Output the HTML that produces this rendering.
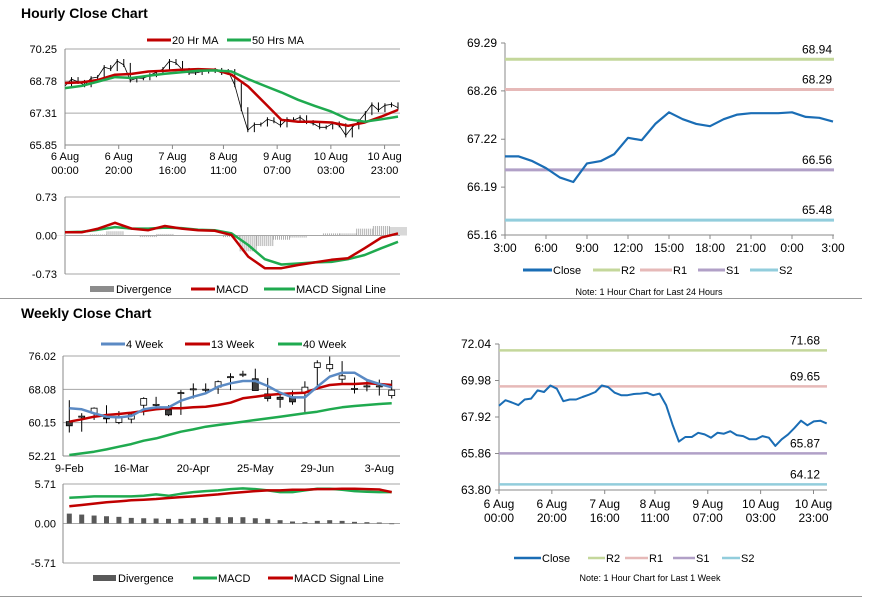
<!DOCTYPE html>
<html><head><meta charset="utf-8"><style>
html,body{margin:0;padding:0;background:#fff;}
svg{display:block;font-family:"Liberation Sans",Arial,sans-serif;}
</style></head><body>
<svg id="c" width="873" height="601" viewBox="0 0 873 601" xmlns="http://www.w3.org/2000/svg">
<text x="21" y="18" font-size="14" font-weight="bold">Hourly Close Chart</text>
<text x="21" y="318" font-size="14" font-weight="bold">Weekly Close Chart</text>
<line x1="0" y1="298.5" x2="862" y2="298.5" stroke="#999"/>
<line x1="0" y1="596.5" x2="862" y2="596.5" stroke="#999"/>
</svg>
<script>
// ---------- DATA ----------
const weekCloseSeries = [68.56,68.87,68.74,68.59,68.91,68.96,69.42,69.33,69.7,69.52,68.81,68.91,68.91,69.05,69.18,69.33,69.7,69.61,69.29,69.15,69.15,69.22,69.24,69.29,69.15,69.24,68.59,67.49,66.53,66.79,66.79,67.03,66.94,66.75,67.03,66.98,67.12,66.9,66.84,66.66,66.66,66.84,66.75,66.29,66.66,66.94,67.31,67.71,67.45,67.67,67.71,67.56];
const ma20Series = [68.69,68.72,68.84,69.07,69.11,69.22,69.25,69.30,69.33,69.30,69.07,68.53,67.77,67.00,66.92,66.92,66.88,66.73,66.88,67.15,67.46];
const ma50Series = [68.46,68.56,68.76,68.96,68.92,69.02,69.12,69.18,69.25,69.27,69.22,68.87,68.56,68.26,67.92,67.64,67.38,67.03,66.92,67.03,67.15];
const hMacd = [0.06,0.06,0.13,0.24,0.13,0.10,0.18,0.13,0.10,0.09,0.01,-0.40,-0.62,-0.62,-0.56,-0.51,-0.46,-0.43,-0.24,-0.04,0.04];
const hSignal = [0.06,0.07,0.11,0.16,0.13,0.13,0.15,0.14,0.11,0.10,0.04,-0.18,-0.45,-0.55,-0.53,-0.51,-0.50,-0.45,-0.37,-0.24,-0.12];
const hDiv = [-0.01,-0.01,0.02,0.08,0.01,-0.03,0.03,-0.01,-0.01,-0.01,-0.03,-0.3,-0.2,-0.08,-0.04,0,0.04,0.04,0.13,0.18,0.16];
const hourTickHours = [0,20,40,59,79,99,119];
const hourTickLabels = [["6 Aug","00:00"],["6 Aug","20:00"],["7 Aug","16:00"],["8 Aug","11:00"],["9 Aug","07:00"],["10 Aug","03:00"],["10 Aug","23:00"]];
const hPriceTicks = [65.85,67.31,68.78,70.25];
const hMacdTicks = [-0.73,0.00,0.73];

const dayClose = [66.85,66.85,66.75,66.6,66.4,66.3,66.7,66.75,66.9,67.25,67.2,67.55,67.8,67.65,67.55,67.5,67.65,67.75,67.78,67.78,67.78,67.8,67.7,67.68,67.6];
const dayTickLabels = ["3:00","6:00","9:00","12:00","15:00","18:00","21:00","0:00","3:00"];
const dayTicks = [65.16,66.19,67.22,68.26,69.29];
const dayLevels = [68.94,68.29,66.56,65.48];
const weekLevels = [71.68,69.65,65.87,64.12];
const weekTicks = [63.80,65.86,67.92,69.98,72.04];

const wOpen = [60.4,61.6,62.4,61.3,60.2,61.0,64.3,64.5,63.2,67.3,68.2,68.1,68.6,71.1,71.7,70.6,67.0,66.2,66.3,67.3,73.3,73.0,70.5,68.3,68.9,68.9,66.6];
const wClose = [59.4,61.7,63.6,61.2,61.6,62.0,65.9,64.5,62.0,67.3,68.2,68.1,69.9,71.1,71.7,67.8,65.9,65.7,65.1,68.6,74.4,74.0,71.3,68.3,68.9,68.9,67.9];
const wHigh = [65.5,62.4,63.8,64.3,62.9,62.6,66.2,66.3,64.3,67.9,69.5,69.5,70.2,71.9,72.5,73.0,70.8,67.3,67.8,70.0,75.0,75.9,74.8,70.9,70.0,70.4,70.3];
const wLow = [57.8,58.0,60.8,60.0,59.8,60.0,61.9,63.6,61.7,62.0,65.9,67.1,67.0,67.9,71.0,67.8,65.2,63.7,64.4,62.7,68.0,72.3,69.6,67.1,67.6,66.6,65.9];
const w4 = [63.56,63.32,62.37,61.57,61.41,61.73,63.32,63.79,63.79,65.38,66.33,67.13,68.72,69.51,70.07,70.07,68.88,67.29,66.17,66.17,68.72,71.1,72.05,72.05,70.3,69.35,68.56];
const w13 = [60.38,60.94,61.57,61.97,62.21,62.52,62.92,63.32,63.56,63.56,63.8,63.96,64.35,64.91,65.94,66.33,66.73,66.97,67.13,67.29,68.32,69.11,69.35,69.35,69.51,69.35,69.11];
const w40 = [52.44,52.84,53.23,53.79,54.42,55.05,55.85,56.41,57.2,58.0,58.55,59.19,59.59,59.98,60.38,60.78,61.17,61.57,61.97,62.37,62.76,63.32,63.8,64.11,64.35,64.59,64.75];
const wMacd = [3.73,3.82,3.92,3.92,3.92,3.92,4.01,4.2,4.01,4.3,4.54,4.68,4.78,4.97,5.07,4.97,4.78,4.54,4.54,4.78,5.02,5.02,4.88,4.68,4.59,4.54,4.54];
const wSignal = [2.49,2.68,2.87,3.06,3.2,3.35,3.44,3.54,3.68,3.82,3.92,4.06,4.2,4.4,4.54,4.68,4.78,4.78,4.88,4.88,4.97,4.97,5.02,5.02,4.97,4.92,4.54];
const wDiv = [1.43,1.29,1.15,1.05,0.96,0.81,0.76,0.72,0.67,0.67,0.76,0.81,0.91,0.91,0.91,0.76,0.67,0.48,0.29,0.19,0.38,0.48,0.38,0.24,0.19,0.14,-0.1];
const weekTickIdx = [0,5,10,15,20,25];
const weekTickLabels = ["9-Feb","16-Mar","20-Apr","25-May","29-Jun","3-Aug"];
const wPriceTicks = [52.21,60.15,68.08,76.02];
const wMacdTicks = [-5.71,0.00,5.71];

// ---------- HELPERS ----------
const NS="http://www.w3.org/2000/svg";
const svg=document.getElementById('c');
function el(tag,attrs,name){
  const e=document.createElementNS(NS,tag);
  for(const k in attrs) e.setAttribute(k,attrs[k]);
  
  
  svg.appendChild(e);return e;
}
function txt(x,y,s,name,opts){
  const o=Object.assign({'font-size':11,fill:'#000'},opts||{});
  o.x=x;o.y=y;
  const e=el('text',o,name);e.textContent=s;return e;
}
function lin(d0,d1,r0,r1){return v=>r0+(v-d0)*(r1-r0)/(d1-d0);}
function poly(xs,ys,color,w,name){
  let d='';for(let i=0;i<xs.length;i++)d+=(i?'L':'M')+xs[i].toFixed(1)+','+ys[i].toFixed(1);
  return el('path',{d:d,fill:'none',stroke:color,'stroke-width':w,'stroke-linejoin':'round'},name);
}
function legendLine(x1,x2,y,color,w,label,name){
  el('line',{x1:x1,y1:y,x2:x2,y2:y,stroke:color,'stroke-width':w},name+'-swatch');
  txt(x2+1,y+4,label,name+'-label');
}
function legendRect(x1,x2,y,color,label,name){
  el('rect',{x:x1,y:y-3,width:x2-x1,height:6,fill:color},name+'-swatch');
  txt(x2+2,y+4,label,name+'-label');
}
const RED='#c00000',GREEN='#1faa4f',BLUE='#5b8ac4',DBLUE='#1a6db5';

// ---------- HOURLY PRICE (top-left) ----------
(function(){
  const X=lin(0,124,65,398), Y=lin(65.85,70.25,145,49);
  hPriceTicks.forEach((t,i)=>{
    if(i>0) el('line',{x1:65,y1:Y(t),x2:400,y2:Y(t),stroke:'#a6a6a6'},'hourly-gridline');
    txt(57,Y(t)+4,t.toFixed(2),'hourly-y-tick',{'text-anchor':'end'});
  });
  el('line',{x1:65,y1:49,x2:65,y2:145,stroke:'#888'},'hourly-y-axis');
  el('line',{x1:65,y1:145,x2:400,y2:145,stroke:'#888'},'hourly-x-axis');
  hourTickHours.forEach((h,i)=>{
    el('line',{x1:X(h),y1:145,x2:X(h),y2:149,stroke:'#888'},'hourly-x-tick-mark');
    txt(X(h),160,hourTickLabels[i][0],'hourly-x-tick',{'text-anchor':'middle'});
    txt(X(h),174,hourTickLabels[i][1],'hourly-x-tick',{'text-anchor':'middle'});
  });
  const n=weekCloseSeries.length;
  const cx=weekCloseSeries.map((v,i)=>X(i*124/(n-1))), cy=weekCloseSeries.map(Y);
  for(let i=1;i<n;i++){
    el('line',{x1:cx[i],y1:Math.min(cy[i-1],cy[i])-2,x2:cx[i],y2:Math.max(cy[i-1],cy[i])+2,stroke:'#000','stroke-width':1},'hourly-candle');
  }
  poly(cx,cy,'#000',0.8,'hourly-price-line');
  const m=ma20Series.length;
  poly(ma20Series.map((v,i)=>X(i*124/(m-1))),ma20Series.map(Y),RED,2.5,'ma20-line');
  poly(ma50Series.map((v,i)=>X(i*124/(m-1))),ma50Series.map(Y),GREEN,2.5,'ma50-line');
  legendLine(147,171,40,RED,3,'20 Hr MA','legend-ma20');
  legendLine(227,251,40,GREEN,3,'50 Hrs MA','legend-ma50');
})();

// ---------- HOURLY MACD ----------
(function(){
  const X=lin(0,124,65,398), Y=lin(-0.73,0.73,274,197);
  hMacdTicks.forEach(t=>{
    el('line',{x1:65,y1:Y(t),x2:400,y2:Y(t),stroke:'#a6a6a6'},'hourly-macd-gridline');
    txt(57,Y(t)+4,t.toFixed(2),'hourly-macd-y-tick',{'text-anchor':'end'});
  });
  el('line',{x1:65,y1:197,x2:65,y2:274,stroke:'#888'},'hourly-macd-y-axis');
  const m=hDiv.length;
  hDiv.forEach((v,i)=>{
    const x=X(i*124/(m-1));
    for(let k=-4;k<=4;k++){
      el('line',{x1:x+k*2,y1:Y(0),x2:x+k*2,y2:Y(v),stroke:'#a8a8a8','stroke-width':0.9},'hourly-divergence-bar');
    }
  });
  poly(hSignal.map((v,i)=>X(i*124/(m-1))),hSignal.map(Y),GREEN,2.5,'hourly-signal-line');
  poly(hMacd.map((v,i)=>X(i*124/(m-1))),hMacd.map(Y),RED,2.5,'hourly-macd-line');
  legendRect(90,114,289,'#8c8c8c','Divergence','legend-hourly-divergence');
  legendLine(191,215,289,RED,3,'MACD','legend-hourly-macd');
  legendLine(264,295,289,GREEN,3,'MACD Signal Line','legend-hourly-signal');
})();

// ---------- 24H CLOSE (top-right) ----------
(function(){
  const X=lin(0,24,505,833), Y=lin(65.16,69.29,235,43);
  el('line',{x1:505,y1:43,x2:505,y2:235,stroke:'#888'},'day-y-axis');
  el('line',{x1:505,y1:235,x2:834,y2:235,stroke:'#888'},'day-x-axis');
  dayTicks.forEach(t=>{
    el('line',{x1:501,y1:Y(t),x2:505,y2:Y(t),stroke:'#888'},'day-y-tick-mark');
    txt(497,Y(t)+4,t.toFixed(2),'day-y-tick',{'text-anchor':'end','font-size':12});
  });
  dayTickLabels.forEach((s,i)=>{
    const x=X(i*3);
    el('line',{x1:x,y1:235,x2:x,y2:239,stroke:'#888'},'day-x-tick-mark');
    txt(x,252,s,'day-x-tick',{'text-anchor':'middle','font-size':12});
  });
  const cols=['#c4d79b','#e6b9b8','#b1a0c7','#92cddc'], nm=['r2','r1','s1','s2'];
  dayLevels.forEach((v,i)=>{
    el('line',{x1:505,y1:Y(v),x2:834,y2:Y(v),stroke:cols[i],'stroke-width':3},'day-level-'+nm[i]);
    txt(832,Y(v)-6,v.toFixed(2),'day-level-label',{'text-anchor':'end','font-size':12});
  });
  poly(dayClose.map((v,i)=>X(i)),dayClose.map(Y),DBLUE,2.2,'day-close-line');
  legendLine(523,552,270,DBLUE,3,'Close','legend-day-close');
  legendLine(593,620,270,cols[0],3,'R2','legend-day-r2');
  legendLine(640,672,270,cols[1],3,'R1','legend-day-r1');
  legendLine(698,725,270,cols[2],3,'S1','legend-day-s1');
  legendLine(750,778,270,cols[3],3,'S2','legend-day-s2');
  txt(649,295,'Note: 1 Hour Chart for Last 24 Hours','day-note',{'text-anchor':'middle','font-size':9});
})();

// ---------- WEEKLY CANDLES ----------
(function(){
  const band=12.4, X=i=>69.3+i*band, Y=lin(52.21,76.02,456,356);
  wPriceTicks.forEach((t,i)=>{
    if(i>0) el('line',{x1:63,y1:Y(t),x2:400,y2:Y(t),stroke:'#a6a6a6'},'weekly-gridline');
    txt(56,Y(t)+4,t.toFixed(2),'weekly-y-tick',{'text-anchor':'end'});
  });
  el('line',{x1:63,y1:356,x2:63,y2:456,stroke:'#888'},'weekly-y-axis');
  el('line',{x1:63,y1:456,x2:400,y2:456,stroke:'#888'},'weekly-x-axis');
  weekTickIdx.forEach((k,i)=>{
    txt(X(k),472,weekTickLabels[i],'weekly-x-tick',{'text-anchor':'middle'});
  });
  wOpen.forEach((o,i)=>{
    const c=wClose[i],x=X(i);
    el('line',{x1:x,y1:Y(wHigh[i]),x2:x,y2:Y(wLow[i]),stroke:'#000'},'weekly-candle-wick');
    const top=Y(Math.max(o,c)),bot=Y(Math.min(o,c));
    el('rect',{x:x-3,y:top,width:6,height:Math.max(bot-top,1),fill:c<o?'#404040':'#fff',stroke:'#000','stroke-width':0.8},'weekly-candle-body');
  });
  poly(w40.map((v,i)=>X(i)),w40.map(Y),GREEN,2.5,'ma40-week-line');
  poly(w13.map((v,i)=>X(i)),w13.map(Y),RED,2.5,'ma13-week-line');
  poly(w4.map((v,i)=>X(i)),w4.map(Y),BLUE,2.5,'ma4-week-line');
  legendLine(101,125,344,BLUE,3,'4 Week','legend-4week');
  legendLine(185,210,344,RED,3,'13 Week','legend-13week');
  legendLine(278,302,344,GREEN,3,'40 Week','legend-40week');
})();

// ---------- WEEKLY MACD ----------
(function(){
  const X=i=>69.3+i*12.4, Y=lin(-5.71,5.71,563,484);
  wMacdTicks.forEach(t=>{
    el('line',{x1:63,y1:Y(t),x2:400,y2:Y(t),stroke:'#a6a6a6'},'weekly-macd-gridline');
    txt(56,Y(t)+4,t.toFixed(2),'weekly-macd-y-tick',{'text-anchor':'end'});
  });
  el('line',{x1:63,y1:484,x2:63,y2:563,stroke:'#888'},'weekly-macd-y-axis');
  wDiv.forEach((v,i)=>{
    const y0=Y(0),y1=Y(v);
    el('rect',{x:X(i)-2.5,y:Math.min(y0,y1),width:5,height:Math.max(Math.abs(y1-y0),0.5),fill:'#595959'},'weekly-divergence-bar');
  });
  poly(wMacd.map((v,i)=>X(i)),wMacd.map(Y),GREEN,2.5,'weekly-macd-line');
  poly(wSignal.map((v,i)=>X(i)),wSignal.map(Y),RED,2.5,'weekly-signal-line');
  legendRect(93,116,578,'#595959','Divergence','legend-weekly-divergence');
  legendLine(193,217,578,GREEN,3,'MACD','legend-weekly-macd');
  legendLine(268,293,578,RED,3,'MACD Signal Line','legend-weekly-signal');
})();

// ---------- WEEK HOURLY CLOSE (bottom-right) ----------
(function(){
  const X=lin(0,124,499,826.7), Y=lin(63.80,72.04,490,344);
  el('line',{x1:499,y1:344,x2:499,y2:490,stroke:'#888'},'week-y-axis');
  el('line',{x1:499,y1:490,x2:827,y2:490,stroke:'#888'},'week-x-axis');
  weekTicks.forEach(t=>{
    el('line',{x1:495,y1:Y(t),x2:499,y2:Y(t),stroke:'#888'},'week-y-tick-mark');
    txt(491,Y(t)+4,t.toFixed(2),'week-y-tick',{'text-anchor':'end','font-size':12});
  });
  hourTickHours.forEach((h,i)=>{
    el('line',{x1:X(h),y1:490,x2:X(h),y2:494,stroke:'#888'},'week-x-tick-mark');
    txt(X(h),508,hourTickLabels[i][0],'week-x-tick',{'text-anchor':'middle','font-size':12});
    txt(X(h),522,hourTickLabels[i][1],'week-x-tick',{'text-anchor':'middle','font-size':12});
  });
  const cols=['#c4d79b','#e6b9b8','#b1a0c7','#92cddc'], nm=['r2','r1','s1','s2'];
  weekLevels.forEach((v,i)=>{
    el('line',{x1:499,y1:Y(v),x2:827,y2:Y(v),stroke:cols[i],'stroke-width':2.5},'week-level-'+nm[i]);
    txt(820,Y(v)-6,v.toFixed(2),'week-level-label',{'text-anchor':'end','font-size':12});
  });
  const n=weekCloseSeries.length;
  poly(weekCloseSeries.map((v,i)=>X(i*124/(n-1))),weekCloseSeries.map(Y),DBLUE,2,'week-close-line');
  legendLine(514,541,558,DBLUE,2.5,'Close','legend-week-close');
  legendLine(588,605,558,cols[0],2.5,'R2','legend-week-r2');
  legendLine(625,648,558,cols[1],2.5,'R1','legend-week-r1');
  legendLine(673,695,558,cols[2],2.5,'S1','legend-week-s1');
  legendLine(722,740,558,cols[3],2.5,'S2','legend-week-s2');
  txt(650,581,'Note: 1 Hour Chart for Last 1 Week','week-note',{'text-anchor':'middle','font-size':9});
})();
</script>
</body></html>
